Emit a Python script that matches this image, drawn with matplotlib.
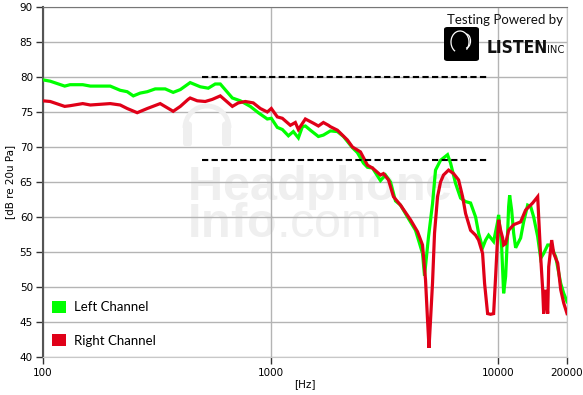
import numpy as np
import matplotlib
matplotlib.use("Agg")
from matplotlib import pyplot as plt
from matplotlib.patches import Patch, FancyBboxPatch, Arc

plt.rcParams["mathtext.fontset"] = "custom"
plt.rcParams["mathtext.bf"] = "Liberation Sans:bold"
plt.rcParams["mathtext.rm"] = "Liberation Sans"

# frequency response (Hz, dB re 20uPa)
left_hz = [100, 108, 125, 132, 150, 162, 198, 219, 235, 250, 268, 288, 312, 345, 374, 402,
           444, 492, 533, 572, 602, 680, 737, 815, 884, 968, 1008, 1071, 1127, 1198, 1259,
           1325, 1380, 1422, 1496, 1622, 1706, 1831, 1966, 2089, 2288, 2406, 2557, 2663,
           2801, 3037, 3194, 3360, 3534, 3718, 3991, 4327, 4461, 4645, 4740, 4935, 5139,
           5297, 5572, 5981, 6166, 6486, 6823, 7177, 7549, 7941, 8185, 8522, 8785, 9056,
           9526, 9920, 10020, 10330, 10540, 10755, 10975, 11087, 11200, 11429, 11663,
           11901, 12516, 12902, 13436, 13851, 14278, 14869, 15327, 15800, 16453, 16960,
           17842, 18767, 19345, 20000]
left_db = [79.6, 79.4, 78.7, 78.9, 78.9, 78.7, 78.7, 78.1, 77.9, 77.3, 77.7, 77.9, 78.3, 78.3,
           77.8, 78.2, 79.2, 78.6, 78.4, 79.0, 79.0, 77.0, 76.6, 75.8, 74.9, 74.0, 74.1, 72.8,
           72.5, 71.6, 72.2, 71.3, 72.9, 73.0, 72.4, 71.5, 71.7, 72.3, 72.2, 71.5, 69.9, 69.2,
           67.7, 67.1, 67.0, 65.2, 66.0, 65.0, 62.3, 61.7, 60.0, 58.1, 56.7, 54.8, 51.6, 57.2,
           61.9, 66.7, 68.1, 68.9, 67.7, 64.8, 62.7, 62.2, 62.0, 60.0, 57.7, 55.6, 56.7, 57.4,
           56.5, 59.3, 60.3, 55.8, 49.1, 51.5, 57.7, 61.5, 63.1, 61.0, 57.7, 55.6, 57.0, 59.3,
           61.7, 61.5, 60.0, 57.2, 54.1, 54.8, 56.0, 56.0, 54.3, 50.5, 49.1, 47.9]

right_hz = [100, 108, 125, 132, 150, 162, 198, 219, 235, 260, 288, 328, 374, 402, 435, 444,
            477, 517, 555, 602, 680, 722, 775, 840, 902, 968, 1008, 1071, 1127, 1222, 1285,
            1325, 1422, 1542, 1622, 1706, 1795, 1831, 1966, 2175, 2288, 2481, 2663, 2801,
            3037, 3130, 3293, 3463, 3718, 4114, 4416, 4645, 4788, 4886, 4960, 5036, 5139,
            5244, 5406, 5572, 5743, 6042, 6356, 6686, 6963, 7177, 7549, 7941, 8185, 8522,
            8696, 8965, 9241, 9526, 9721, 9920, 10020, 10226, 10435, 10540, 10755, 11087,
            11663, 12516, 13166, 14134, 14869, 15020, 15327, 15641, 15800, 16123, 16453,
            16621, 17133, 17484, 18207, 18767, 19345, 20000]
right_db = [76.6, 76.5, 75.8, 75.9, 76.2, 76.0, 76.2, 76.0, 75.5, 74.9, 75.5, 76.2, 75.1, 75.8,
            76.8, 77.0, 76.6, 76.5, 76.8, 77.3, 75.8, 76.3, 76.5, 76.3, 75.5, 75.0, 75.5, 74.3,
            74.1, 73.1, 73.5, 72.5, 74.0, 73.4, 73.0, 73.5, 73.1, 72.9, 72.4, 71.0, 70.0, 69.3,
            67.4, 67.0, 66.0, 66.2, 65.3, 62.9, 61.7, 59.6, 57.9, 56.0, 51.0, 45.3, 41.3, 45.3,
            50.6, 57.7, 62.9, 65.0, 66.0, 66.7, 66.2, 65.3, 62.9, 60.5, 58.1, 57.4, 56.7, 54.8,
            50.5, 46.2, 46.1, 46.2, 51.5, 57.2, 59.6, 58.1, 57.0, 56.0, 56.2, 58.1, 58.9, 59.3,
            61.0, 62.0, 62.9, 60.0, 54.3, 49.6, 46.2, 49.6, 46.2, 52.9, 56.7, 54.8, 53.4, 49.6,
            47.7, 46.2]

# reference level lines
ref_db = [80.0, 68.1]
ref_from_hz = 500
ref_to_hz = 9000

x_ticks = [100, 1000, 10000, 20000]
x_tick_labels = ["100", "1000", "10000", "20000"]
y_ticks = [40, 45, 50, 55, 60, 65, 70, 75, 80, 85, 90]

green = "#00ff00"
red = "#e00018"
wm = "#efefef"

W, H = 583, 395
fig = plt.figure(figsize=(W / 100, H / 100), dpi=100)
ax = fig.add_axes([0.0731, 0.0962, 0.8995, 0.8861])

ax.set_xscale("log")
ax.set_xlim(100, 20000)
ax.set_ylim(40, 90)

# watermark (site name + headphones icon)
ax.text(0.275, 0.343, "$\\mathbf{Headphone}$\n$\\mathbf{Info}$.com", transform=ax.transAxes,
        fontsize=35, family="Liberation Sans", color=wm, zorder=0, va="baseline",
        ha="left", linespacing=0.72, multialignment="left")
fig.patches.append(Arc((207 / W, 1 - 128 / H), 44 / W, 44 / H, theta1=0, theta2=180,
                       lw=3.5, color=wm, transform=fig.transFigure, zorder=0))
for cx in (183, 222):
    fig.patches.append(FancyBboxPatch((cx / W, 1 - 147 / H), 9 / W, 26 / H,
                                      boxstyle="round,pad=0,rounding_size=0.01",
                                      transform=fig.transFigure, facecolor=wm,
                                      edgecolor="none", zorder=0))
ax.set_facecolor("none")

ax.grid(True, which="major", color="#b4b4b4", lw=1.0, zorder=1)
ax.minorticks_off()

ax.plot(left_hz, left_db, color=green, lw=2.3, zorder=3, solid_joinstyle="miter")
ax.plot(right_hz, right_db, color=red, lw=2.3, zorder=4, solid_joinstyle="miter")
ax.hlines(ref_db, ref_from_hz, ref_to_hz, colors="black", lw=1.5,
          linestyles=(0, (3, 1.6)), zorder=5)

ax.set_xticks(x_ticks)
ax.set_xticklabels(x_tick_labels)
ax.set_yticks(y_ticks)
ax.tick_params(axis="both", labelsize=7.5, length=5, width=1, color="#333333", pad=2)
ax.tick_params(axis="x", pad=3)

ax.spines["left"].set_color("#555555")
ax.spines["left"].set_linewidth(1.5)
ax.spines["top"].set_color("#777777")
ax.spines["right"].set_color("#c8c8c8")
ax.spines["bottom"].set_color("#c8c8c8")

ax.set_xlabel("[Hz]", fontsize=7.5, labelpad=1)
ax.set_ylabel("[dB re 20u Pa]", fontsize=7.5, labelpad=3)

handles = [Patch(facecolor=green, edgecolor="none"), Patch(facecolor=red, edgecolor="none")]
ax.legend(handles, ["Left Channel", "Right Channel"], loc="lower left",
          bbox_to_anchor=(0.018, 0.03), frameon=False, borderpad=0, borderaxespad=0,
          handlelength=1.05, handleheight=1.05, handletextpad=0.6, labelspacing=1.55,
          prop={"family": "Lato", "size": 9.5})

# logo block
fig.text(0.966, 0.95, "Testing Powered by", ha="right", va="center",
         family="Lato", fontsize=9.5, color="#111111")
fig.patches.append(FancyBboxPatch((444 / W, 1 - 61 / H), 35 / W, 34 / H,
                                  boxstyle="round,pad=0,rounding_size=0.006",
                                  transform=fig.transFigure, facecolor="black",
                                  edgecolor="none", zorder=6))
# rough head outline inside the logo box
fig.patches.append(Arc((460 / W, 1 - 42 / H), 18 / W, 22 / H, theta1=-60, theta2=250,
                       lw=0.9, color="white", transform=fig.transFigure, zorder=7))
fig.patches.append(Arc((466 / W, 1 - 41 / H), 9 / W, 14 / H, theta1=-90, theta2=90,
                       lw=0.9, color="white", transform=fig.transFigure, zorder=7))
fig.text(487 / W, 1 - 53 / H, "LISTEN", ha="left", va="baseline",
         family="DejaVu Sans", fontstretch="condensed", fontweight="bold",
         fontsize=12.5, color="#111111")
fig.text(564 / W, 1 - 53 / H, "INC", ha="right", va="baseline",
         family="DejaVu Sans", fontstretch="condensed", fontsize=8, color="#111111")

fig.savefig("out.png", dpi=100)
